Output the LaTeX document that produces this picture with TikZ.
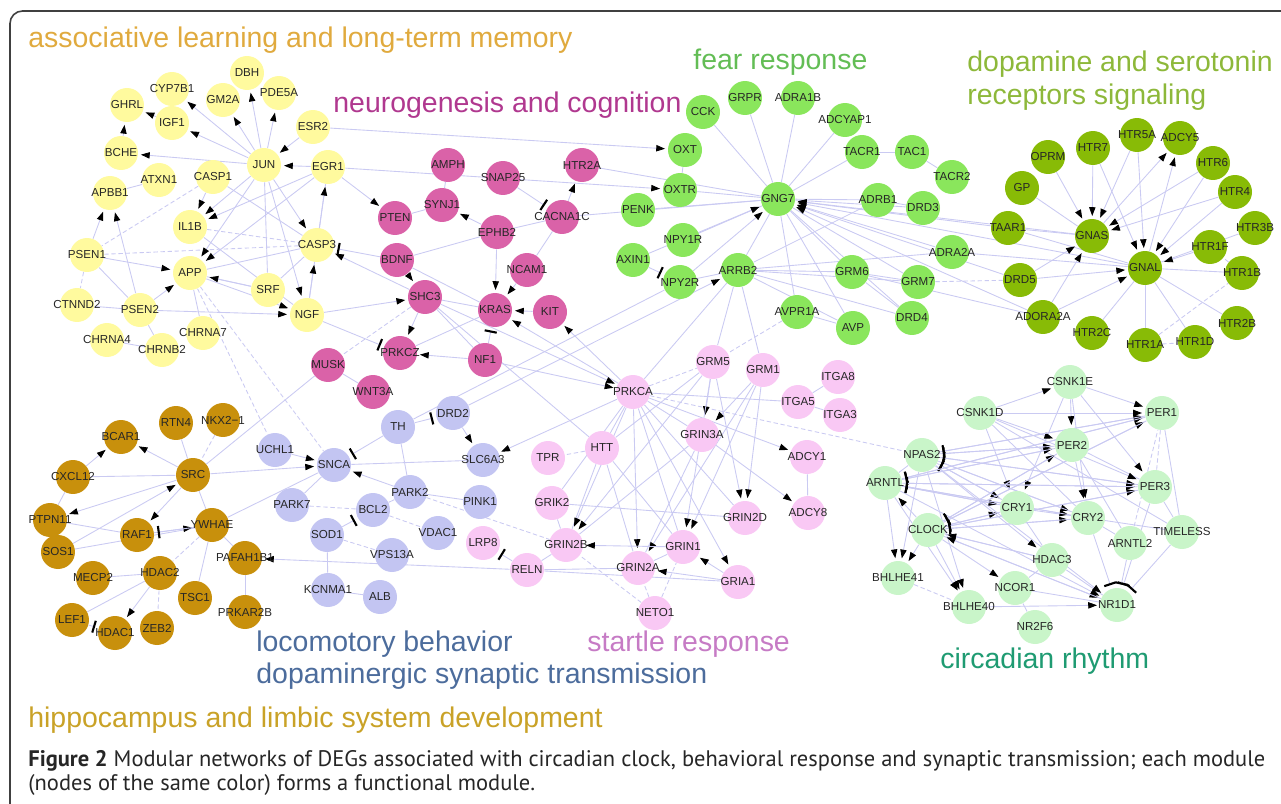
\documentclass[tikz,border=0pt]{standalone}
\usepackage{fontspec}
\setmainfont{Liberation Sans}
\newfontfamily\capfont{PT Sans}
\usetikzlibrary{arrows.meta,backgrounds}

\definecolor{ylwc}{HTML}{FFFA9E}
\definecolor{magc}{HTML}{DA62A8}
\definecolor{fearc}{HTML}{8AE65C}
\definecolor{dopc}{HTML}{88BB06}
\definecolor{bluc}{HTML}{C3C5F2}
\definecolor{goldc}{HTML}{C8900C}
\definecolor{stac}{HTML}{F9C8F4}
\definecolor{circc}{HTML}{C9F5C9}
\definecolor{edgec}{HTML}{CACAF2}
\definecolor{tYlw}{HTML}{E0AA3E}
\definecolor{tMag}{HTML}{B0388F}
\definecolor{tFear}{HTML}{63BD55}
\definecolor{tDop}{HTML}{8DB83A}
\definecolor{tBlu}{HTML}{4C6C9C}
\definecolor{tSta}{HTML}{C67BC5}
\definecolor{tCirc}{HTML}{1F9B72}
\definecolor{tGold}{HTML}{C9A227}

\newcommand\genefont{\fontsize{6.6}{7}\selectfont}
\newcommand\modfont{\fontsize{16.2}{18}\selectfont}

\begin{document}
\begin{tikzpicture}[x=0.02cm,y=-0.02cm,
  gene/.style={circle,minimum size=0.68cm,inner sep=0pt,font=\genefont,text=black!85,
    execute at begin node={\hbox to 0pt\bgroup\hss},execute at end node={\hss\egroup}},
  ylw/.style={gene,fill=ylwc},
  mag/.style={gene,fill=magc},
  fear/.style={gene,fill=fearc},
  dop/.style={gene,fill=dopc},
  blu/.style={gene,fill=bluc},
  gld/.style={gene,fill=goldc},
  sta/.style={gene,fill=stac},
  circ/.style={gene,fill=circc},
  ln/.style={draw=edgec,line width=0.5pt},
  dln/.style={ln,dash pattern=on 2.5pt off 1.5pt},
  act/.style={ln,-{Triangle[length=5pt,width=3.6pt,color=black]},shorten >=1.5pt},
  inh/.style={ln,-{Bar[width=7pt,line width=1.2pt,color=black]},shorten >=2pt},
  module/.style={anchor=base west,font=\modfont,inner sep=0pt}]
\useasboundingbox (0,0) rectangle (1281,804);
\draw[black!75,line width=0.9pt,rounded corners=0.25cm] (1281,11) -- (10,11) -- (10,804);

% module titles
\node[module,text=tYlw] (tAssoc) at (28,48) {associative learning and long-term memory};
\node[module,text=tMag] (tNeuro) at (333,113) {neurogenesis and cognition};
\node[module,text=tFear] (tFear) at (693,70) {fear response};
\node[module,text=tDop] (tDopa) at (967,72) {dopamine and serotonin};
\node[module,text=tDop] (tRecep) at (967,105) {receptors signaling};
\node[module,text=tBlu] (tLoco) at (256,651) {locomotory behavior};
\node[module,text=tBlu] (tDsyn) at (256,683) {dopaminergic synaptic transmission};
\node[module,text=tSta] (tStart) at (587,651) {startle response};
\node[module,text=tCirc] (tCirc) at (940,668) {circadian rhythm};
\node[module,text=tGold] (tHippo) at (28,727) {hippocampus and limbic system development};

% yellow
\path
(247,73) node[ylw] (DBH) {DBH}
(172,89) node[ylw] (CYP7B1) {CYP7B1}
(223,100) node[ylw] (GM2A) {GM2A}
(279,93) node[ylw] (PDE5A) {PDE5A}
(127,105) node[ylw] (GHRL) {GHRL}
(172,123) node[ylw] (IGF1) {IGF1}
(313,127) node[ylw] (ESR2) {ESR2}
(121,153) node[ylw] (BCHE) {BCHE}
(264,165) node[ylw] (JUN) {JUN}
(328,167) node[ylw] (EGR1) {EGR1}
(159,180) node[ylw] (ATXN1) {ATXN1}
(213,177) node[ylw] (CASP1) {CASP1}
(110,193) node[ylw] (APBB1) {APBB1}
(190,227) node[ylw] (IL1B) {IL1B}
(317,245) node[ylw] (CASP3) {CASP3}
(87,255) node[ylw] (PSEN1) {PSEN1}
(190,273) node[ylw] (APP) {APP}
(268,290) node[ylw] (SRF) {SRF}
(307,315) node[ylw] (NGF) {NGF}
(77,305) node[ylw] (CTNND2) {CTNND2}
(140,310) node[ylw] (PSEN2) {PSEN2}
(107,340) node[ylw] (CHRNA4) {CHRNA4}
(203,333) node[ylw] (CHRNA7) {CHRNA7}
(162,350) node[ylw] (CHRNB2) {CHRNB2}
;
% magenta
\path
(448,165) node[mag] (AMPH) {AMPH}
(503,178) node[mag] (SNAP25) {SNAP25}
(582,165) node[mag] (HTR2A) {HTR2A}
(442,205) node[mag] (SYNJ1) {SYNJ1}
(395,218) node[mag] (PTEN) {PTEN}
(562,217) node[mag] (CACNA1C) {CACNA1C}
(497,232) node[mag] (EPHB2) {EPHB2}
(397,260) node[mag] (BDNF) {BDNF}
(527,270) node[mag] (NCAM1) {NCAM1}
(425,297) node[mag] (SHC3) {SHC3}
(495,310) node[mag] (KRAS) {KRAS}
(550,312) node[mag] (KIT) {KIT}
(400,353) node[mag] (PRKCZ) {PRKCZ}
(485,360) node[mag] (NF1) {NF1}
(328,365) node[mag] (MUSK) {MUSK}
(373,392) node[mag] (WNT3A) {WNT3A}
;
% fear response
\path
(703,112) node[fear] (CCK) {CCK}
(745,98) node[fear] (GRPR) {GRPR}
(798,98) node[fear] (ADRA1B) {ADRA1B}
(845,120) node[fear] (ADCYAP1) {ADCYAP1}
(685,150) node[fear] (OXT) {OXT}
(862,152) node[fear] (TACR1) {TACR1}
(912,152) node[fear] (TAC1) {TAC1}
(952,177) node[fear] (TACR2) {TACR2}
(680,190) node[fear] (OXTR) {OXTR}
(778,199) node[fear] (GNG7) {GNG7}
(638,210) node[fear] (PENK) {PENK}
(878,200) node[fear] (ADRB1) {ADRB1}
(923,208) node[fear] (DRD3) {DRD3}
(683,240) node[fear] (NPY1R) {NPY1R}
(952,252) node[fear] (ADRA2A) {ADRA2A}
(633,260) node[fear] (AXIN1) {AXIN1}
(738,270) node[fear] (ARRB2) {ARRB2}
(852,272) node[fear] (GRM6) {GRM6}
(680,282) node[fear] (NPY2R) {NPY2R}
(918,282) node[fear] (GRM7) {GRM7}
(797,312) node[fear] (AVPR1A) {AVPR1A}
(912,318) node[fear] (DRD4) {DRD4}
(853,328) node[fear] (AVP) {AVP}
;
% dopamine and serotonin
\path
(1048,157) node[dop] (OPRM) {OPRM}
(1093,148) node[dop] (HTR7) {HTR7}
(1137,135) node[dop] (HTR5A) {HTR5A}
(1180,138) node[dop] (ADCY5) {ADCY5}
(1213,163) node[dop] (HTR6) {HTR6}
(1022,188) node[dop] (GP) {GP}
(1235,192) node[dop] (HTR4) {HTR4}
(1008,228) node[dop] (TAAR1) {TAAR1}
(1092,236) node[dop] (GNAS) {GNAS}
(1255,228) node[dop] (HTR3B) {HTR3B}
(1210,247) node[dop] (HTR1F) {HTR1F}
(1145,268) node[dop] (GNAL) {GNAL}
(1242,273) node[dop] (HTR1B) {HTR1B}
(1020,280) node[dop] (DRD5) {DRD5}
(1043,317) node[dop] (ADORA2A) {ADORA2A}
(1237,323) node[dop] (HTR2B) {HTR2B}
(1092,333) node[dop] (HTR2C) {HTR2C}
(1195,342) node[dop] (HTR1D) {HTR1D}
(1145,345) node[dop] (HTR1A) {HTR1A}
;
% locomotory / dopaminergic
\path
(398,427) node[blu] (TH) {TH}
(453,413) node[blu] (DRD2) {DRD2}
(275,450) node[blu] (UCHL1) {UCHL1}
(334,465) node[blu] (SNCA) {SNCA}
(483,460) node[blu] (SLC6A3) {SLC6A3}
(410,492) node[blu] (PARK2) {PARK2}
(480,502) node[blu] (PINK1) {PINK1}
(292,505) node[blu] (PARK7) {PARK7}
(373,510) node[blu] (BCL2) {BCL2}
(327,535) node[blu] (SOD1) {SOD1}
(438,533) node[blu] (VDAC1) {VDAC1}
(392,555) node[blu] (VPS13A) {VPS13A}
(328,590) node[blu] (KCNMA1) {KCNMA1}
(380,597) node[blu] (ALB) {ALB}
;
% hippocampus
\path
(176,423) node[gld] (RTN4) {RTN4}
(223,420) node[gld] (NKX21) {NKX2−1}
(121,437) node[gld] (BCAR1) {BCAR1}
(73,477) node[gld] (CXCL12) {CXCL12}
(193,475) node[gld] (SRC) {SRC}
(50,520) node[gld] (PTPN11) {PTPN11}
(212,525) node[gld] (YWHAE) {YWHAE}
(137,535) node[gld] (RAF1) {RAF1}
(58,552) node[gld] (SOS1) {SOS1}
(245,558) node[gld] (PAFAH1B1) {PAFAH1B1}
(160,573) node[gld] (HDAC2) {HDAC2}
(93,578) node[gld] (MECP2) {MECP2}
(195,598) node[gld] (TSC1) {TSC1}
(245,612) node[gld] (PRKAR2B) {PRKAR2B}
(72,620) node[gld] (LEF1) {LEF1}
(157,628) node[gld] (ZEB2) {ZEB2}
(115,633) node[gld] (HDAC1) {HDAC1}
;
% startle
\path
(713,362) node[sta] (GRM5) {GRM5}
(763,370) node[sta] (GRM1) {GRM1}
(838,377) node[sta] (ITGA8) {ITGA8}
(633,392) node[sta] (PRKCA) {PRKCA}
(798,402) node[sta] (ITGA5) {ITGA5}
(840,415) node[sta] (ITGA3) {ITGA3}
(702,435) node[sta] (GRIN3A) {GRIN3A}
(602,448) node[sta] (HTT) {HTT}
(807,457) node[sta] (ADCY1) {ADCY1}
(548,458) node[sta] (TPR) {TPR}
(552,503) node[sta] (GRIK2) {GRIK2}
(745,518) node[sta] (GRIN2D) {GRIN2D}
(808,513) node[sta] (ADCY8) {ADCY8}
(483,543) node[sta] (LRP8) {LRP8}
(566,545) node[sta] (GRIN2B) {GRIN2B}
(683,547) node[sta] (GRIN1) {GRIN1}
(527,570) node[sta] (RELN) {RELN}
(638,568) node[sta] (GRIN2A) {GRIN2A}
(738,582) node[sta] (GRIA1) {GRIA1}
(655,613) node[sta] (NETO1) {NETO1}
;
% circadian
\path
(1070,382) node[circ] (CSNK1E) {CSNK1E}
(980,413) node[circ] (CSNK1D) {CSNK1D}
(1162,413) node[circ] (PER1) {PER1}
(1072,445) node[circ] (PER2) {PER2}
(922,455) node[circ] (NPAS2) {NPAS2}
(885,483) node[circ] (ARNTL) {ARNTL}
(1155,487) node[circ] (PER3) {PER3}
(1017,508) node[circ] (CRY1) {CRY1}
(1088,518) node[circ] (CRY2) {CRY2}
(928,530) node[circ] (CLOCK) {CLOCK}
(1182,532) node[circ] (TIMELESS) {TIMELESS}
(1130,543) node[circ] (ARNTL2) {ARNTL2}
(1052,560) node[circ] (HDAC3) {HDAC3}
(898,578) node[circ] (BHLHE41) {BHLHE41}
(1015,588) node[circ] (NCOR1) {NCOR1}
(1117,605) node[circ] (NR1D1) {NR1D1}
(969,607) node[circ] (BHLHE40) {BHLHE40}
(1035,627) node[circ] (NR2F6) {NR2F6}
;

\begin{scope}[on background layer]
% plain interactions
\foreach \a/\b in {APBB1/ATXN1, PSEN1/PSEN2, CTNND2/PSEN2, CHRNA4/CHRNB2, CHRNA7/APP,
  CASP1/CASP3, IL1B/NGF, JUN/SRF, SRF/CASP3, APP/CASP3, APP/SRF, EGR1/CASP3, PSEN2/CHRNB2,
  AMPH/SYNJ1, PTEN/SYNJ1, EPHB2/CACNA1C, NCAM1/CACNA1C, BDNF/KRAS, SHC3/KRAS, SHC3/NF1,
  MUSK/WNT3A, KRAS/PRKCZ, EPHB2/BDNF, SHC3/HTT,
  GNG7/CCK, GNG7/GRPR, GNG7/ADRA1B, GNG7/ADCYAP1, GNG7/TACR1, GNG7/OXTR, GNG7/PENK,
  GNG7/NPY1R, GNG7/ARRB2, GNG7/ADRB1, GNG7/DRD3, GNG7/GRM6, GNG7/GRM7, GNG7/DRD4, GNG7/AVP,
  GNG7/AVPR1A, GNG7/CACNA1C, GNG7/HTR2A, TACR1/TAC1, TAC1/TACR2, ADRB1/DRD3, OXT/OXTR,
  ARRB2/NPY2R, ARRB2/GRM5, ARRB2/GRM1, ARRB2/PRKCA, ARRB2/DRD4, ARRB2/AVP, ARRB2/GRM7,
  ARRB2/GRM6, ARRB2/ADRA2A, ARRB2/ADRB1, AVPR1A/AVP, GRM6/GRM7, GRM6/DRD4, GRM6/ADORA2A,
  ADRA2A/GNAL, TH/NPY2R,
  GP/GNAS, TAAR1/GNAS, TAAR1/GNAL, GNAL/HTR1B, GNAL/HTR1A, GNAL/HTR1D, GNAL/HTR2C,
  GNAL/HTR2B, GNAL/HTR3B,
  SNCA/SLC6A3, SNCA/PARK7, SOD1/KCNMA1, KCNMA1/ALB, PARK2/BCL2, PARK2/PINK1, PARK2/TH,
  SNCA/YWHAE,
  CXCL12/SRC, PTPN11/RAF1, PTPN11/SOS1, PTPN11/CXCL12, SOS1/YWHAE, SRC/YWHAE,
  YWHAE/PAFAH1B1, YWHAE/TSC1, HDAC2/MECP2, LEF1/HDAC2, PAFAH1B1/PRKAR2B, RTN4/SRC, SRC/MUSK,
  PRKCA/GRIN1, PRKCA/GRIN2D, PRKCA/GRIN3A, PRKCA/HTT, PRKCA/GRIK2, PRKCA/ITGA5, HTT/GRIN2B,
  HTT/GRIN1, HTT/GRIN2A, GRIK2/GRIN2D, GRIK2/GRIN2B, RELN/GRIN2B, RELN/GRIN2A, RELN/GRIA1,
  GRIN2A/GRIN1, ADCY1/ADCY8, ITGA5/ITGA8, ITGA5/ITGA3, GRIN3A/GRIN2A, GRIN3A/GRIN2B, GRM5/HTT,
  NCOR1/NR2F6, NCOR1/HDAC3, NCOR1/NR1D1, HDAC3/NR1D1, TIMELESS/PER1, TIMELESS/CRY2,
  ARNTL2/CRY2, CSNK1D/CRY2, CSNK1D/TIMELESS, CRY1/CRY2, PER2/PER3, CRY1/HDAC3, TIMELESS/PER3,
  NPAS2/ARNTL, CLOCK/HDAC3, ARNTL2/PER2}
  \draw[ln] (\a) -- (\b);
\foreach \a/\b in {PSEN1/CTNND2, PSEN1/CASP3, IL1B/CASP3, CASP1/PSEN1, APP/SNCA, APP/UCHL1,
  SHC3/MUSK, AVPR1A/GRM5, GRM7/DRD5, HTR1A/HTR1D, HTR1A/HTR1B, HTR1B/HTR1F, PARK7/BCL2,
  BCL2/VDAC1, SOD1/VPS13A, PARK2/GRIN2B, YWHAE/HDAC2, HDAC2/ZEB2, NKX21/SRC, PRKCA/GRM5,
  HTT/TPR, NETO1/GRIN2A, NETO1/GRIN2B, NETO1/GRIN1, PRKCA/NPAS2, BHLHE41/BHLHE40,
  PER1/PER3, ARNTL2/PER1}
  \draw[dln] (\a) -- (\b);
% activation
\foreach \a/\b in {JUN/CYP7B1, JUN/IGF1, JUN/GM2A, JUN/DBH, JUN/PDE5A, ESR2/JUN, EGR1/JUN,
  JUN/BCHE, BCHE/GHRL, IGF1/GHRL, CASP1/IL1B, JUN/IL1B, EGR1/IL1B, EGR1/PTEN, NGF/EGR1,
  JUN/CASP3, PSEN1/APP, PSEN2/APP, SRF/APP, JUN/APP, EGR1/APP, PSEN1/APBB1, PSEN2/APBB1,
  APP/NGF, PSEN2/NGF, JUN/NGF, NGF/CASP3, SHC3/CASP3, NGF/SHC3, BDNF/SHC3, SHC3/PRKCZ,
  NF1/PRKCZ,
  CACNA1C/HTR2A, EPHB2/SYNJ1, EPHB2/KRAS, NCAM1/KRAS, KIT/KRAS, PRKCA/KRAS, PRKCA/KIT,
  NF1/PRKCA, SHC3/PRKCA, ESR2/OXT, EGR1/OXTR,
  GNAS/GNG7, GNAL/GNG7, ADRA2A/GNG7, DRD5/GNG7, ADORA2A/GNG7, TAAR1/GNG7, NPY2R/GNG7,
  AXIN1/GNG7, DRD2/ARRB2,
  OPRM/GNAS, HTR7/GNAS, HTR5A/GNAS, HTR6/GNAS, HTR4/GNAS, DRD5/GNAS, ADORA2A/GNAS,
  HTR7/GNAL, HTR5A/GNAL, HTR6/GNAL, HTR4/GNAL, HTR1F/GNAL, DRD5/GNAL, ADORA2A/GNAL,
  GNAS/ADCY5, GNAL/ADCY5,
  UCHL1/SNCA, SRC/SNCA, PARK2/SNCA, DRD2/SLC6A3, PRKCA/SLC6A3, RELN/PAFAH1B1,
  SRC/BCAR1, CXCL12/BCAR1, SRC/PTPN11, SOS1/SRC, SRC/RAF1, RAF1/YWHAE, HDAC2/HDAC1,
  PRKCA/ADCY1, GRIN3A/ADCY8, GRM5/GRIN3A, GRM1/GRIN3A, GRM5/GRIN2D, GRM1/GRIN2D, GRM5/GRIN1,
  GRM1/GRIN1, GRM1/GRIN2A, PRKCA/GRIN2A, GRM5/GRIN2B, PRKCA/GRIN2B, PRKCA/GRIA1,
  GRIA1/GRIN1, GRIA1/GRIN2A, GRIN1/GRIN2B,
  CSNK1D/CSNK1E, CSNK1E/PER2, CSNK1E/PER1, CSNK1E/PER3, CSNK1E/CRY1, CSNK1E/CRY2,
  CSNK1D/PER1, CSNK1D/PER2, CSNK1D/PER3, CSNK1D/CRY1, PER2/CRY2,
  NPAS2/PER1, ARNTL/PER1, CLOCK/PER1, NPAS2/PER2, ARNTL/PER2, CLOCK/PER2, NPAS2/PER3,
  ARNTL/PER3, CLOCK/PER3, NPAS2/CRY1, ARNTL/CRY1, CLOCK/CRY1, NPAS2/CRY2, ARNTL/CRY2,
  CLOCK/CRY2, CLOCK/ARNTL, ARNTL/BHLHE41, CLOCK/BHLHE41, NPAS2/BHLHE41, CLOCK/BHLHE40,
  ARNTL/BHLHE40, NPAS2/BHLHE40, CLOCK/NCOR1, NPAS2/HDAC3, CLOCK/NR1D1, ARNTL/NR1D1,
  NPAS2/NR1D1, BHLHE40/NR1D1, NR1D1/CLOCK, HDAC3/CLOCK}
  \draw[act] (\a) -- (\b);
% inhibition
\foreach \a/\b in {BDNF/CASP3, NGF/PRKCZ, SNAP25/CACNA1C, NF1/KRAS, AXIN1/NPY2R, TH/SNCA,
  TH/DRD2, SOD1/BCL2, RELN/LRP8, YWHAE/RAF1, LEF1/HDAC1,
  CRY1/NPAS2, CRY2/NPAS2, PER1/NPAS2, PER2/NPAS2, PER3/NPAS2, CRY1/ARNTL, CRY2/ARNTL,
  PER1/ARNTL, PER2/ARNTL, PER3/ARNTL, CRY1/CLOCK, CRY2/CLOCK, PER1/CLOCK, PER2/CLOCK,
  PER3/CLOCK, PER3/NR1D1, ARNTL2/NR1D1, TIMELESS/NR1D1, CRY2/NR1D1}
  \draw[inh] (\a) -- (\b);
\end{scope}

% caption
\node[anchor=base west,inner sep=0pt,font=\capfont\fontsize{12.8}{15}\selectfont,text=black!85] (cap1) at (28,766)
  {\textbf{Figure 2} Modular networks of DEGs associated with circadian clock, behavioral response and synaptic transmission; each module};
\node[anchor=base west,inner sep=0pt,font=\capfont\fontsize{12.8}{15}\selectfont,text=black!85] (cap2) at (28,790)
  {(nodes of the same color) forms a functional module.};
\end{tikzpicture}
\end{document}
